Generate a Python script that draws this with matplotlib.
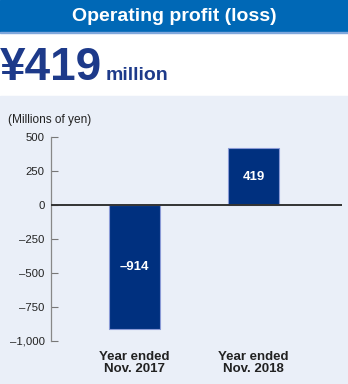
import matplotlib.pyplot as plt
from matplotlib.patches import Rectangle
from matplotlib.ticker import FuncFormatter

plt.rcParams['font.family'] = ['Liberation Sans', 'DejaVu Sans']

# data
categories = ['Year ended\nNov. 2017', 'Year ended\nNov. 2018']
values = [-914, 419]
bar_labels = ['\u2013914', '419']
yticks = [-1000, -750, -500, -250, 0, 250, 500]

title = 'Operating profit (loss)'
headline = '\u00a5419'
headline_unit = 'million'
unit_label = '(Millions of yen)'

banner_blue = '#0068b6'
navy = '#00307f'
headline_navy = '#1d3a8a'
panel_bg = '#eaeff8'

W, H = 348, 384
fig = plt.figure(figsize=(W / 100, H / 100), dpi=100)

# header banner + light panel
fig.patches.append(Rectangle((0, 1 - 32 / H), 1, 32 / H, transform=fig.transFigure,
                             color=banner_blue, zorder=0))
fig.patches.append(Rectangle((0, 1 - 33 / H), 1, 1.2 / H, transform=fig.transFigure,
                             color='#7fa7dc', zorder=0))
fig.patches.append(Rectangle((0, 0), 1, 1 - 96 / H, transform=fig.transFigure,
                             color=panel_bg, zorder=0))

fig.text(174 / W, 1 - 16.5 / H, title, color='white', fontsize=14, fontweight='bold',
         ha='center', va='center')
fig.text(0 / W, 1 - 80 / H, headline, color=headline_navy, fontsize=33, fontweight='bold',
         ha='left', va='baseline')
fig.text(106 / W, 1 - 80 / H, headline_unit, color=headline_navy, fontsize=14, fontweight='bold',
         ha='left', va='baseline')
fig.text(8 / W, 1 - 123 / H, unit_label, color='#222222', fontsize=8.6, ha='left', va='baseline')

# chart
ax = fig.add_axes([51 / W, 1 - 341 / H, (342 - 51) / W, (341 - 137) / H])
ax.set_zorder(2)
ax.patch.set_visible(False)
x = list(range(len(categories)))
bars = ax.bar(x, values, width=0.43, color=navy, edgecolor='#8a9ad6', linewidth=0.8, zorder=2)
for b, lab in zip(bars, bar_labels):
    ax.text(b.get_x() + b.get_width() / 2, b.get_height() / 2, lab, color='white',
            fontsize=9.5, fontweight='bold', ha='center', va='center', zorder=3)

ax.axhline(0, color='#333333', linewidth=1.4, zorder=3)
ax.set_xlim(-0.70, 1.74)
ax.set_ylim(-1000, 500)
ax.set_yticks(yticks)
ax.yaxis.set_major_formatter(FuncFormatter(lambda v, p: f'{v:,.0f}'.replace('-', '\u2013')))
ax.tick_params(axis='y', direction='in', length=5, width=0.8, color='#777777',
               labelsize=8.2, labelcolor='#222222', pad=4.5)
for s in ['top', 'right', 'bottom']:
    ax.spines[s].set_visible(False)
ax.spines['left'].set_color('#888888')
ax.spines['left'].set_linewidth(0.9)
ax.set_xticks([])

for xi, cat in zip(x, categories):
    ax.text(xi, -1075, cat, ha='center', va='top', fontsize=9.5, fontweight='bold',
            color='#222222', linespacing=1.0)

fig.savefig('out.png', dpi=100)
